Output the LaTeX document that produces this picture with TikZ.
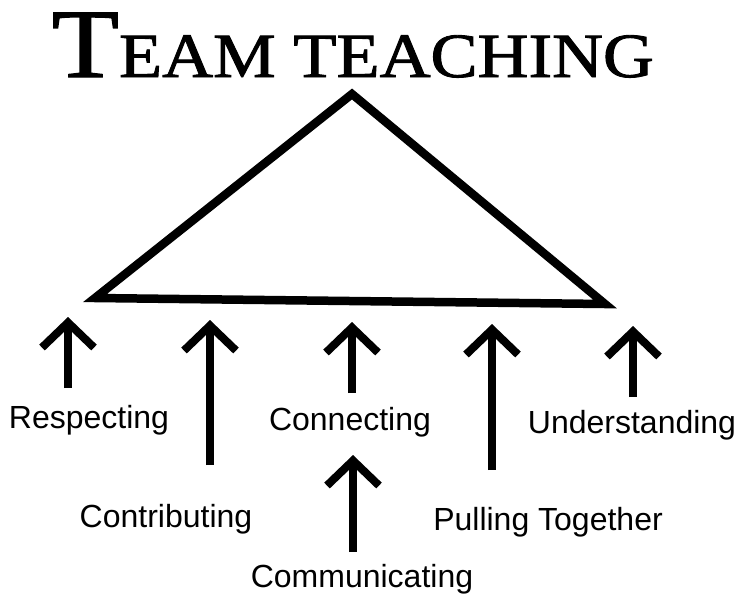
\documentclass[tikz,border=0pt]{standalone}
\usepackage{fontspec}
\setmainfont{Liberation Serif}
\setsansfont{Liberation Sans}
\newfontfamily\headfont[BoldFont=Liberation Serif,BoldFeatures={FakeBold=1.4}]{Liberation Serif}
\usepackage{tikz}
\usetikzlibrary{arrows.meta}
\tikzset{word node/.style={font=\sffamily\fontsize{32}{38}\selectfont,inner sep=0pt,anchor=base},
	up arrow/.style={line width=8pt,-{Straight Barb[length=25pt,width=52pt,sharp]}},}

\begin{document}
\begin{tikzpicture}[x=1pt, y=-1pt, line width=8.5pt, line join=miter]
		\useasboundingbox (0,0) rectangle (742,598);
		\node[inner sep=0pt, anchor=base, xscale=1.12, font=\headfont\bfseries] (title) at (353,77)
		    {{\fontsize{98}{100}\selectfont T}{\fontsize{63}{70}\selectfont EAM TEACHING}};
	
	    % the triangle
	    \coordinate (apex) at (352,94);
	    \coordinate (lcorner) at (95,298);
	    \coordinate (rcorner) at (605,304);
	    \draw (apex) -- (lcorner) -- (rcorner) -- cycle;
	
	    % arrows under the base
	    \coordinate (respFoot) at (68,388);     \coordinate (respTip) at (68,317);
	    \coordinate (contribFoot) at (210,465); \coordinate (contribTip) at (210,320);
	    \coordinate (connFoot) at (352,393);    \coordinate (connTip) at (352,322);
	    \coordinate (commFoot) at (353,552);    \coordinate (commTip) at (353,455);
	    \coordinate (pullFoot) at (492,470);    \coordinate (pullTip) at (492,324);
	    \coordinate (underFoot) at (633,397);   \coordinate (underTip) at (633,326);
	
	    \draw[up arrow] (respFoot) -- (respTip);
	    \draw[up arrow] (contribFoot) -- (contribTip);
	    \draw[up arrow] (connFoot) -- (connTip);
	    \draw[up arrow] (commFoot) -- (commTip);
	    \draw[up arrow] (pullFoot) -- (pullTip);
	    \draw[up arrow] (underFoot) -- (underTip);
	
	    \node[word node] (resp) at (89,428) {Respecting};
	    \node[word node] (contrib) at (166,527) {Contributing};
	    \node[word node] (conn) at (350,430) {Connecting};
	    \node[word node] (comm) at (362,587) {Communicating};
	    \node[word node] (pull) at (548,530) {Pulling Together};
	    \node[word node] (under) at (632,433) {Understanding};
	\end{tikzpicture}
\end{document}
